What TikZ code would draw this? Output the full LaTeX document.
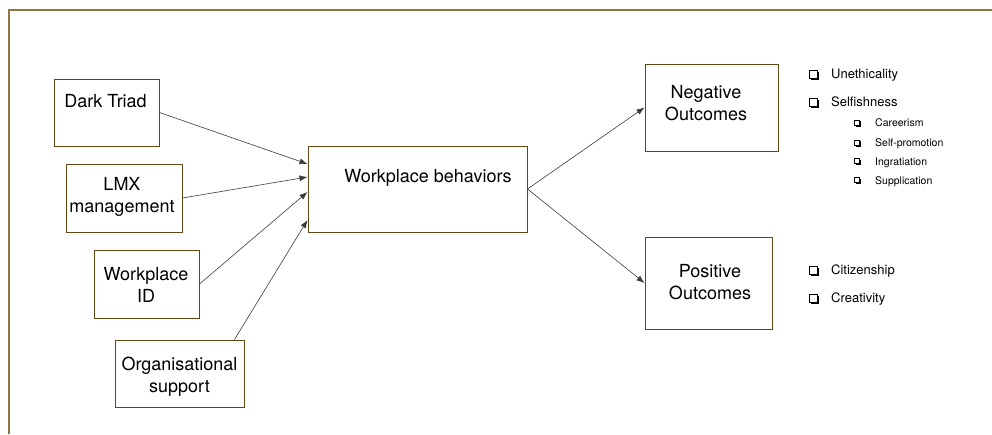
\documentclass[tikz,border=0pt]{standalone}
\usepackage{fontspec}
\setmainfont{TeX Gyre Heros}
\usetikzlibrary{arrows.meta,calc}
\definecolor{framecol}{RGB}{145,117,68}
\definecolor{boxcol}{RGB}{100,70,20}
\definecolor{arrowcol}{RGB}{60,60,60}
\begin{document}
\begin{tikzpicture}[x=1pt,y=-1pt,
  box/.style={draw=boxcol, line width=1pt, rectangle, inner sep=0pt},
  lbl/.style={anchor=base, inner sep=0pt, font=\fontsize{18}{22.5}\selectfont},
  link/.style={draw=arrowcol, line width=0.6pt, -{Latex[length=8pt,width=6pt]}},
  itemA/.style={anchor=base west, inner sep=0pt, font=\fontsize{13}{15}\selectfont},
  itemB/.style={anchor=base west, inner sep=0pt, font=\fontsize{10.5}{13}\selectfont},
  chk/.pic={
    \fill[black] (1.8,1.8) rectangle (9.8,9.8);
    \filldraw[fill=white, draw=black, line width=1.1pt] (0,0) rectangle (8,8);
  },
  chksmall/.pic={
    \fill[black] (1.4,1.4) rectangle (6.8,6.8);
    \filldraw[fill=white, draw=black, line width=1pt] (0,0) rectangle (5.4,5.4);
  }]
\useasboundingbox (0,0) rectangle (992,434);

% outer frame (top and left edges only)
\draw[framecol, line width=1.6pt] (9,434) -- (9,10) -- (992,10);

% boxes
\node[box, minimum width=105pt, minimum height=67pt] (dt)  at (106.5,112.5) {};
\node[box, minimum width=116pt, minimum height=68pt] (lmx) at (124,198) {};
\node[box, minimum width=105pt, minimum height=68pt] (wid) at (146.5,284) {};
\node[box, minimum width=129pt, minimum height=67pt] (org) at (179.5,373.5) {};
\node[box, minimum width=219pt, minimum height=86pt] (wb)  at (417.5,189) {};
\node[box, minimum width=133pt, minimum height=87pt] (neg) at (711.5,107.5) {};
\node[box, minimum width=127pt, minimum height=92pt] (pos) at (708.5,283) {};

% box labels
\node[lbl] (dtT)  at (105.5,107) {Dark Triad};
\node[lbl] (lmxT) at (122,190) {\begin{tabular}[t]{@{}c@{}}LMX\\management\end{tabular}};
\node[lbl] (widT) at (146,280) {\begin{tabular}[t]{@{}c@{}}Workplace\\ID\end{tabular}};
\node[lbl] (orgT) at (179.5,370) {\begin{tabular}[t]{@{}c@{}}Organisational\\support\end{tabular}};
\node[lbl] (wbT)  at (428,182) {Workplace behaviors};
\node[lbl] (negT) at (706,98) {\begin{tabular}[t]{@{}c@{}}Negative\\Outcomes\end{tabular}};
\node[lbl] (posT) at (710,277) {\begin{tabular}[t]{@{}c@{}}Positive\\Outcomes\end{tabular}};

% connectors
\draw[link] (dt.east) -- ($(wb.west)+(0,-25)$);
\draw[link] (lmx.east) -- ($(wb.west)+(0,-12)$);
\draw[link] (wid.east) -- ($(wb.west)+(0,3)$);
\draw[link] ($(org.north east)+(-10,0)$) -- ($(wb.west)+(0,31)$);
\draw[link] (wb.east) -- (neg.west);
\draw[link] (wb.east) -- (pos.west);

% outcome lists
\pic at (809.5,70.5) {chk};
\node[itemA] (i1) at (831,78.5) {Unethicality};
\pic at (809.5,98.5) {chk};
\node[itemA] (i2) at (831,106.5) {Selfishness};
\pic at (854.5,120) {chksmall};
\node[itemB] (i3) at (875,126.5) {Careerism};
\pic at (854.5,140) {chksmall};
\node[itemB] (i4) at (875,146.5) {Self-promotion};
\pic at (854.5,158.5) {chksmall};
\node[itemB] (i5) at (875,165) {Ingratiation};
\pic at (854.5,177.5) {chksmall};
\node[itemB] (i6) at (875,184) {Supplication};
\pic at (809.5,266.5) {chk};
\node[itemA] (i7) at (831,274.5) {Citizenship};
\pic at (809.5,294.5) {chk};
\node[itemA] (i8) at (831,302.5) {Creativity};
\end{tikzpicture}
\end{document}
